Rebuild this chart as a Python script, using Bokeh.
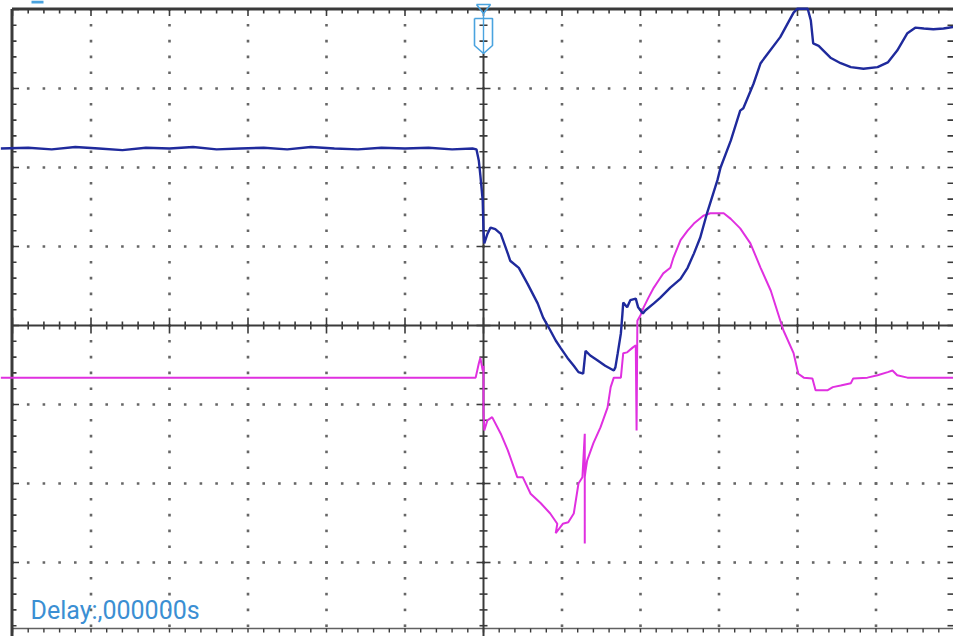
import numpy as np
from bokeh.plotting import figure
from bokeh.models import Range1d
from bokeh.core.properties import value
from bokeh.embed import file_html
from bokeh.resources import INLINE

# ---- data (screen divisions: time -> x, amplitude -> y) ----
blue_t = [-6.15, -5.8, -5.5, -5.2, -4.9, -4.6, -4.3, -4.0, -3.7, -3.4, -3.1, -2.8, -2.5,
          -2.2, -1.9, -1.6, -1.3, -1.0, -0.7, -0.4, -0.14, -0.09, -0.06, -0.04, -0.01,
          0.0, 0.01, 0.05, 0.09, 0.15, 0.22, 0.31, 0.34, 0.45, 0.56, 0.69, 0.76, 0.85,
          0.92, 0.98, 1.07, 1.15, 1.21, 1.27, 1.30, 1.36, 1.45, 1.55, 1.66, 1.68, 1.71,
          1.75, 1.77, 1.78, 1.83, 1.87, 1.94, 1.97, 2.03, 2.06, 2.17, 2.25, 2.38, 2.51,
          2.60, 2.68, 2.76, 2.85, 2.98, 3.02, 3.15, 3.27, 3.31, 3.44, 3.53, 3.62, 3.78,
          3.95, 4.00, 4.13, 4.17, 4.20, 4.27, 4.33, 4.42, 4.55, 4.68, 4.84, 5.02, 5.15,
          5.27, 5.40, 5.50, 5.61, 5.73, 5.86, 5.99]
blue_v = [2.24, 2.25, 2.23, 2.26, 2.24, 2.22, 2.25, 2.24, 2.26, 2.23, 2.24, 2.25, 2.23,
          2.26, 2.24, 2.23, 2.25, 2.24, 2.25, 2.23, 2.24, 2.23, 2.09, 1.90, 1.58,
          1.20, 1.04, 1.16, 1.24, 1.22, 1.16, 0.91, 0.82, 0.73, 0.53, 0.28, 0.10, -0.06,
          -0.19, -0.28, -0.41, -0.51, -0.59, -0.61, -0.32, -0.38, -0.44, -0.51, -0.57, -0.53, -0.35,
          -0.10, 0.15, 0.29, 0.23, 0.32, 0.34, 0.23, 0.15, 0.19, 0.28, 0.35, 0.48, 0.59,
          0.73, 0.91, 1.11, 1.43, 1.84, 2.00, 2.34, 2.72, 2.75, 3.06, 3.32, 3.44, 3.65,
          3.96, 4.01, 4.01, 3.86, 3.57, 3.54, 3.48, 3.39, 3.32, 3.27, 3.25, 3.27, 3.33,
          3.48, 3.70, 3.77, 3.76, 3.75, 3.76, 3.78]

mag_t = [-6.15, -5.0, -4.0, -3.0, -2.0, -1.0, -0.10, -0.06, -0.04, -0.01, 0.0, 0.0, 0.01,
         0.05, 0.11, 0.22, 0.31, 0.43, 0.50, 0.60, 0.73, 0.85, 0.94, 0.92, 1.01, 1.08,
         1.15, 1.21, 1.26, 1.29, 1.29, 1.29, 1.30, 1.32, 1.40, 1.49, 1.58, 1.62, 1.66,
         1.75, 1.78, 1.83, 1.90, 1.94, 1.95, 1.96, 2.00, 2.04, 2.10, 2.17, 2.23, 2.29,
         2.38, 2.42, 2.51, 2.60, 2.68, 2.80, 2.89, 3.06, 3.15, 3.27, 3.40, 3.53, 3.66,
         3.82, 3.95, 4.01, 4.08, 4.19, 4.23, 4.38, 4.45, 4.55, 4.68, 4.71, 4.89, 5.02,
         5.15, 5.21, 5.27, 5.40, 5.99]
mag_v = [-0.66, -0.66, -0.66, -0.66, -0.66, -0.66, -0.66, -0.48, -0.41, -0.57, -0.51, -1.10, -1.33,
         -1.20, -1.16, -1.37, -1.58, -1.92, -1.92, -2.13, -2.25, -2.38, -2.51, -2.63, -2.51, -2.49,
         -2.38, -2.00, -1.92, -1.37, -2.76, -1.92, -1.84, -1.71, -1.49, -1.29, -1.04, -0.78, -0.66,
         -0.66, -0.35, -0.34, -0.28, -0.25, -1.33, 0.06, 0.13, 0.23, 0.35, 0.48, 0.57, 0.66,
         0.73, 0.86, 1.08, 1.20, 1.29, 1.39, 1.42, 1.42, 1.35, 1.23, 1.04, 0.73, 0.44,
         -0.06, -0.35, -0.61, -0.66, -0.67, -0.82, -0.82, -0.78, -0.76, -0.73, -0.67, -0.66, -0.63,
         -0.59, -0.57, -0.63, -0.66, -0.66]

delay_label = ["Delay:,000000s"]

# ---- screen geometry (px per division) ----
PX_X = 78.5
PX_Y = 79.0
X_LEFT, X_RIGHT = -483 / PX_X, (953 - 483) / PX_X
Y_TOP, Y_BOT = 325 / PX_Y, -(636 - 325) / PX_Y

p = figure(width=953, height=636, output_backend="svg", toolbar_location=None,
           x_range=Range1d(X_LEFT, X_RIGHT), y_range=Range1d(Y_BOT, Y_TOP),
           x_axis_type=None, y_axis_type=None,
           min_border_left=0, min_border_right=0, min_border_top=0, min_border_bottom=0)
p.grid.visible = False
p.outline_line_color = None
p.background_fill_color = "white"
p.border_fill_color = "white"

AX = "#3a3a3a"
DOT = "#666666"

# dotted graticule
gx, gy = [], []
minor_y = np.round(np.arange(-3.8, 4.01, 0.2), 2)
minor_x = np.round(np.arange(-6.0, 6.0, 0.2), 2)
for k in range(-5, 6):
    if k == 0:
        continue
    gx += [k] * len(minor_y)
    gy += list(minor_y)
for k in range(-3, 4):
    if k == 0:
        continue
    gx += list(minor_x)
    gy += [k] * len(minor_x)
p.scatter(x=gx, y=gy, marker="square", size=2.6, color=DOT, line_color=None)

def is_major(v):
    return abs(v - round(v)) < 1e-6

# center axes
p.segment(x0=[0], y0=[Y_BOT], x1=[0], y1=[(325 - 53) / PX_Y], line_color=AX, line_width=2)
p.segment(x0=[-6.0], y0=[0], x1=[X_RIGHT], y1=[0], line_color=AX, line_width=2)
vt = np.round(np.arange(-3.8, 4.01, 0.2), 2)
hl = np.array([7 if is_major(v) else 4 for v in vt]) / PX_X
p.segment(x0=-hl, y0=vt, x1=hl, y1=vt, line_color=AX, line_width=1.6)
ht = np.round(np.arange(-6.0, 6.0, 0.2), 2)
vl = np.array([8 if is_major(v) else 4 for v in ht]) / PX_Y
p.segment(x0=ht, y0=-vl, x1=ht, y1=vl, line_color=AX, line_width=1.6)

# borders
top_y = (325 - 8.5) / PX_Y
bot_y = -(628 - 325) / PX_Y
left_x = (11.5 - 483) / PX_X
p.segment(x0=[left_x], y0=[Y_BOT], x1=[left_x], y1=[top_y], line_color=AX, line_width=3)
p.segment(x0=[left_x], y0=[top_y], x1=[X_RIGHT], y1=[top_y], line_color=AX, line_width=3)
p.segment(x0=[left_x], y0=[bot_y], x1=[X_RIGHT], y1=[bot_y], line_color=AX, line_width=1.5, line_alpha=0.8)
# border ticks
tl = np.array([7 if is_major(v) else 4.5 for v in ht]) / PX_Y
p.segment(x0=ht, y0=top_y, x1=ht, y1=top_y - tl, line_color=AX, line_width=1.6)
p.segment(x0=ht, y0=bot_y, x1=ht, y1=bot_y - 4 / PX_Y, line_color=AX, line_width=1.4)
ll = np.array([7 if is_major(v) else 4.5 for v in vt]) / PX_X
p.segment(x0=left_x, y0=vt, x1=left_x + ll, y1=vt, line_color=AX, line_width=1.6)
p.segment(x0=X_RIGHT, y0=vt, x1=X_RIGHT - 6 / PX_X, y1=vt, line_color=AX, line_width=1.6)

# trigger marker
TB = "#4aa3df"
sx = np.array([474, 492, 492, 483, 474, 474]); sy = np.array([18, 18, 45, 53, 45, 18])
p.line(x=(sx - 483) / PX_X, y=(325 - sy) / PX_Y, line_color=TB, line_width=1.6)
p.segment(x0=[0], y0=[(325 - 18) / PX_Y], x1=[0], y1=[(325 - 53) / PX_Y], line_color=TB, line_width=1.4)
bx = np.array([476, 490, 483, 476]); by = np.array([4, 4, 13, 4])
p.line(x=(bx - 483) / PX_X, y=(325 - by) / PX_Y, line_color=TB, line_width=1.6)
p.segment(x0=[0], y0=[(325 - 13) / PX_Y], x1=[0], y1=[(325 - 18) / PX_Y], line_color=TB, line_width=1.4)
p.segment(x0=[(31 - 483) / PX_X], y0=[(325 - 1.5) / PX_Y], x1=[(43 - 483) / PX_X], y1=[(325 - 1.5) / PX_Y],
          line_color=TB, line_width=3)

# traces
p.line(x=mag_t, y=mag_v, line_color="#e030e0", line_width=2)
p.line(x=blue_t, y=blue_v, line_color="#1f2a9c", line_width=2.4)

p.text(x=[(30 - 483) / PX_X], y=[-(610 - 325) / PX_Y], text=delay_label,
       text_font=value("Roboto"), text_font_size="25px",
       text_color="#3b8fd3", text_baseline="alphabetic", text_align="left")

open("out.html", "w").write(file_html(p, INLINE))
